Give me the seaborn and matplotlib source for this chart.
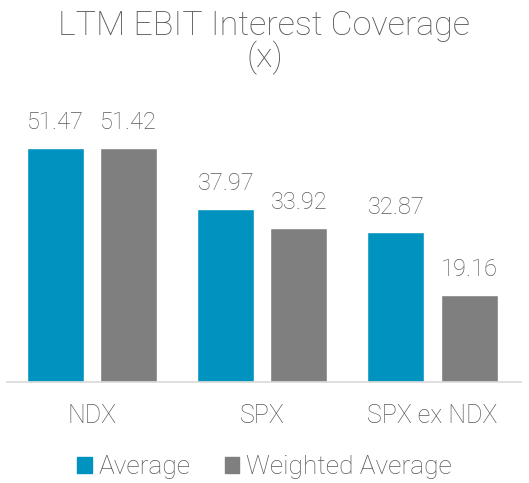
import matplotlib
matplotlib.use("Agg")
import matplotlib.pyplot as plt
import seaborn as sns
import pandas as pd
from matplotlib.patches import Patch

categories = ["NDX", "SPX", "SPX ex NDX"]
series_names = ["Average", "Weighted Average"]
average = [51.47, 37.97, 32.87]
weighted_average = [51.42, 33.92, 19.16]
colors = ["#0093C0", "#7F7F7F"]

sns.set_style("white")
plt.rcParams["font.family"] = ["Roboto", "DejaVu Sans"]
plt.rcParams["font.weight"] = "light"
text_color = "#595959"

df = pd.DataFrame({
    "cat": categories * 2,
    "series": [series_names[0]] * 3 + [series_names[1]] * 3,
    "value": average + weighted_average,
})

fig = plt.figure(figsize=(5.29, 4.83), dpi=100)
ax = fig.add_axes([7 / 529, 0.2091, 514 / 529, 0.584])
sns.barplot(data=df, x="cat", y="value", hue="series", palette=colors,
            width=0.859, gap=0.219, ax=ax, legend=False, saturation=1)

for cont in ax.containers:
    ax.bar_label(cont, labels=[f"{v:.2f}" for v in cont.datavalues], padding=10,
                 fontsize=17, color=text_color, fontweight="light")

ax.set_xlim(-0.5, 2.52)
ax.set_ylim(0, 62)
ax.set_xlabel("")
ax.set_ylabel("")
ax.set_yticks([])
for s in ["top", "left", "right"]:
    ax.spines[s].set_visible(False)
ax.spines["bottom"].set_color("#D9D9D9")
ax.spines["bottom"].set_linewidth(1.2)
ax.tick_params(axis="x", length=0, pad=16, labelsize=18, labelcolor=text_color)
for t in ax.get_xticklabels():
    t.set_fontweight("light")

fig.text(0.5, 1 - 26 / 483, "LTM EBIT Interest Coverage", ha="center", va="center",
         fontsize=24.5, color=text_color, fontweight="light")
fig.text(0.5, 1 - 58 / 483, "(x)", ha="center", va="center",
         fontsize=24.5, color=text_color, fontweight="light")

handles = [Patch(color=c, label=n) for c, n in zip(colors, series_names)]
fig.legend(handles=handles, loc="center", bbox_to_anchor=(0.5, 1 - 467 / 483), ncol=2,
           frameon=False, fontsize=19, handlelength=0.55, handleheight=0.55,
           handletextpad=0.25, columnspacing=1.3, labelcolor=text_color)

fig.savefig("out.png", dpi=100)
